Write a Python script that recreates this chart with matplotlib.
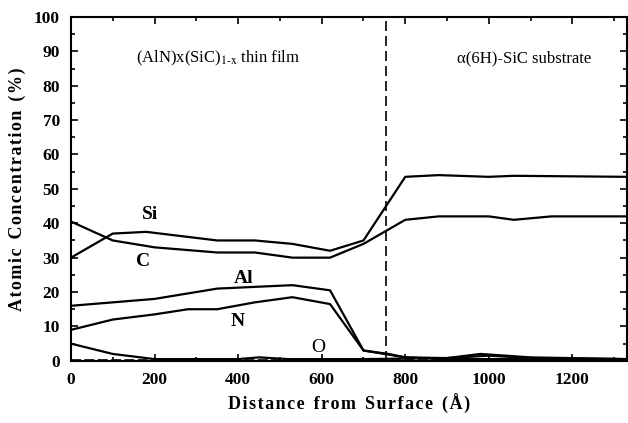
import matplotlib
matplotlib.use("Agg")
import matplotlib.pyplot as plt
from matplotlib.ticker import MultipleLocator

# depth profile (distance in Angstrom, concentration in %)
si_x = [0, 100, 180, 350, 440, 530, 620, 700, 800, 880, 1000, 1060, 1330]
si_y = [30, 37, 37.5, 35, 35, 34, 32, 35, 53.5, 54, 53.5, 53.8, 53.5]

c_x = [0, 100, 200, 350, 440, 530, 620, 700, 800, 880, 1000, 1060, 1150, 1330]
c_y = [40.5, 35, 33, 31.5, 31.5, 30, 30, 34, 41, 42, 42, 41, 42, 42]

al_x = [0, 100, 200, 350, 440, 530, 620, 700, 800, 900, 1330]
al_y = [16, 17, 18, 21, 21.5, 22, 20.5, 3, 1, 0.5, 0.5]

n_x = [0, 100, 200, 280, 350, 440, 530, 620, 700, 760, 800, 900, 1000, 1100, 1330]
n_y = [9, 12, 13.5, 15, 15, 17, 18.5, 16.5, 3, 2, 1, 0.8, 1.5, 0.8, 0.5]

o_x = [0, 100, 200, 400, 450, 520, 700, 900, 980, 1100, 1330]
o_y = [5, 2, 0.5, 0.5, 1, 0.5, 0.5, 0.8, 2, 1, 0.5]

interface_x = 755


def spaced(s):
    # letter-spaced label like the original typesetting
    return '  '.join('\u200a'.join(w) for w in s.split(' '))


plt.rcParams['font.family'] = ['Liberation Serif', 'DejaVu Serif']
plt.rcParams['mathtext.fontset'] = 'stix'

fig = plt.figure(figsize=(6.28, 4.23), dpi=100)
ax = fig.add_axes([0.113, 0.147, 0.885, 0.813])

for xs, ys in [(si_x, si_y), (c_x, c_y), (al_x, al_y), (n_x, n_y), (o_x, o_y)]:
    ax.plot(xs, ys, color='black', lw=1.6)
ax.plot([0, 1330], [0.2, 0.2], color='black', lw=1.2, ls=(0, (6, 2)))

ax.axvline(interface_x, color='black', lw=1.2, ls=(0, (6, 3)))

ax.set_xlim(0, 1330)
ax.set_ylim(0, 100)
ax.xaxis.set_major_locator(MultipleLocator(200))
ax.xaxis.set_minor_locator(MultipleLocator(100))
ax.yaxis.set_major_locator(MultipleLocator(10))
ax.yaxis.set_minor_locator(MultipleLocator(5))
ax.tick_params(which='both', direction='in', top=True, right=True, width=1.2)
ax.tick_params(which='major', length=5, labelsize=12.5, pad=8)
ax.tick_params(which='minor', length=3)
for lab in ax.get_xticklabels() + ax.get_yticklabels():
    lab.set_fontweight('bold')
for s in ax.spines.values():
    s.set_linewidth(1.5)

ax.set_xlabel(spaced('Distance from Surface (Å)'), fontsize=13, fontweight='bold')
ax.set_ylabel(spaced('Atomic Concentration (%)'), fontsize=13, fontweight='bold', labelpad=6)

ax.text(190, 42.5, 'Si', fontsize=14, fontweight='bold', ha='center', va='center')
ax.text(172, 29, 'C', fontsize=14, fontweight='bold', ha='center', va='center')
ax.text(412, 24, 'Al', fontsize=14, fontweight='bold', ha='center', va='center')
ax.text(398, 11.5, 'N', fontsize=14, fontweight='bold', ha='center', va='center')
ax.text(592, 4, 'O', fontsize=14, ha='center', va='center')

ax.text(352, 88, r'(AlN)x(SiC)$_{\mathrm{1\text{-}x}}$ thin film', fontsize=12, ha='center', va='center')
ax.text(1085, 88, 'α(6H)-SiC substrate', fontsize=12, ha='center', va='center')

fig.savefig('out.png', dpi=100)
